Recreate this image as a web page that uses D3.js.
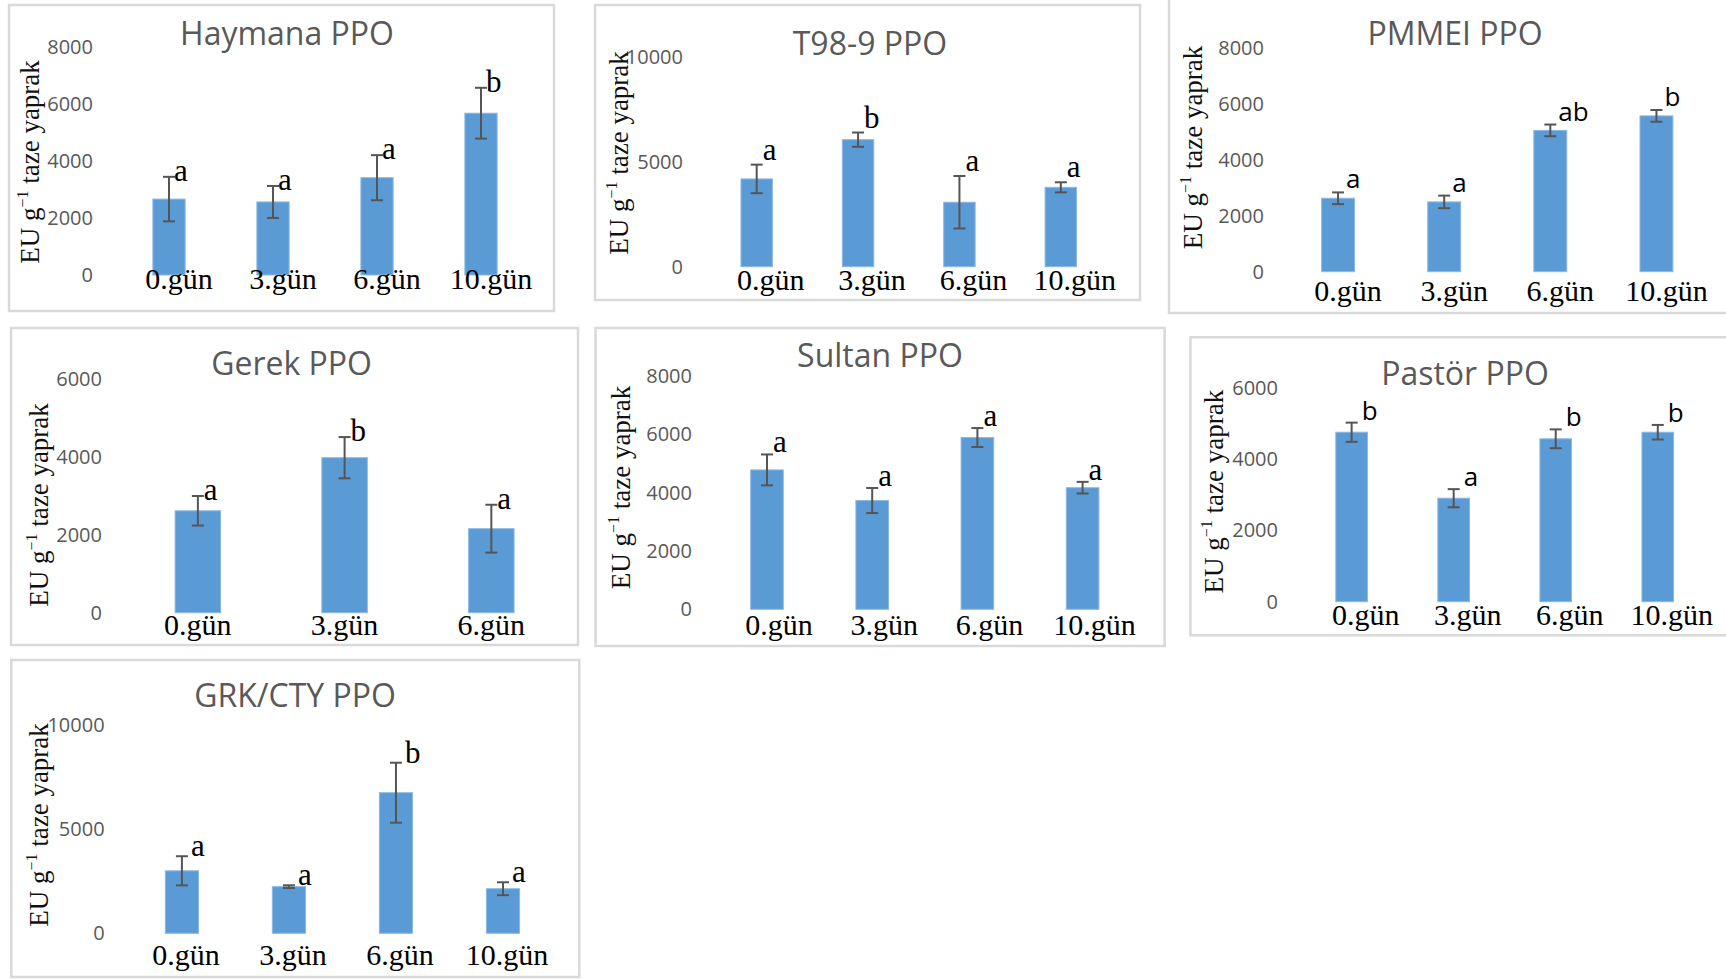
<!DOCTYPE html>
<html lang="tr">
<head>
<meta charset="utf-8">
<title>PPO</title>
<style>
    body { margin: 0; background: #fff; }
    svg { display: block; }
</style>
</head>
<body>
<svg class="ppo" width="1726" height="979"></svg>
<script src="https://d3js.org/d3.v7.min.js"></script>
<script>
    // --- veriler (EU g-1 taze yaprak) ---
    var gunler4 = ['0.gün', '3.gün', '6.gün', '10.gün'];
    var gunler3 = ['0.gün', '3.gün', '6.gün'];

    var ticks8000 = [0, 2000, 4000, 6000, 8000];
    var ticks10000 = [0, 5000, 10000];
    var ticks6000 = [0, 2000, 4000, 6000];

    var haymanaMean = [2660, 2560, 3410, 5670];
    var haymanaErr = [780, 560, 790, 890];
    var haymanaHarf = ['a', 'a', 'a', 'b'];

    var t989Mean = [4180, 6050, 3070, 3780];
    var t989Err = [680, 340, 1250, 240];
    var t989Harf = ['a', 'b', 'a', 'a'];

    var pmmeiMean = [2630, 2500, 5060, 5580];
    var pmmeiErr = [210, 225, 210, 210];
    var pmmeiHarf = ['a', 'a', 'ab', 'b'];

    var gerekMean = [2620, 3985, 2160];
    var gerekErr = [380, 530, 615];
    var gerekHarf = ['a', 'b', 'a'];

    var sultanMean = [4780, 3730, 5890, 4170];
    var sultanErr = [530, 430, 325, 200];
    var sultanHarf = ['a', 'a', 'a', 'a'];

    var pastorMean = [4765, 2910, 4580, 4765];
    var pastorErr = [270, 255, 265, 205];
    var pastorHarf = ['b', 'a', 'b', 'b'];

    var grkMean = [3000, 2240, 6750, 2140];
    var grkErr = [700, 65, 1440, 310];
    var grkHarf = ['a', 'a', 'b', 'a'];

    // --- panel yerleşimi ---
    var panels = [
        {title: 'Haymana PPO', days: gunler4, mean: haymanaMean, err: haymanaErr, harf: haymanaHarf, ticks: ticks8000,
         frame: [9, 5, 545, 306], xr: [117, 533], yr: [275, 46.7], tickX: 93, titleX: 287, titleY: 45,
         axisX: 38.5, axisY: 162, labelY: 289, labelDx: 10, harfDx: 5, harfDy: 4, sans: false},
        {title: 'T98-9 PPO', days: gunler4, mean: t989Mean, err: t989Err, harf: t989Harf, ticks: ticks10000,
         frame: [595, 5, 545, 295], xr: [706, 1111.5], yr: [266.7, 56.7], tickX: 683, titleX: 870, titleY: 55,
         axisX: 628, axisY: 153, labelY: 290, labelDx: 14, harfDx: 6, harfDy: -5, sans: false},
        {title: 'PMMEI PPO', days: gunler4, mean: pmmeiMean, err: pmmeiErr, harf: pmmeiHarf, ticks: ticks8000,
         frame: [1169, -5, 580, 318], xr: [1285, 1709.5], yr: [271.7, 48.3], tickX: 1264, titleX: 1455, titleY: 45,
         axisX: 1202, axisY: 147.5, labelY: 300.7, labelDx: 10, harfDx: 8, harfDy: -4, sans: true},
        {title: 'Gerek PPO', days: gunler3, mean: gerekMean, err: gerekErr, harf: gerekHarf, ticks: ticks6000,
         frame: [11, 328, 567, 317], xr: [124.5, 564.7], yr: [612.7, 379.3], tickX: 102, titleX: 291.6, titleY: 375,
         axisX: 48, axisY: 505, labelY: 635, labelDx: 0, harfDx: 6, harfDy: 4, sans: false},
        {title: 'Sultan PPO', days: gunler4, mean: sultanMean, err: sultanErr, harf: sultanHarf, ticks: ticks8000,
         frame: [595.6, 328, 569, 318], xr: [714.4, 1135.2], yr: [609.3, 376], tickX: 692, titleX: 880, titleY: 366.7,
         axisX: 630, axisY: 487.5, labelY: 635, labelDx: 12, harfDx: 6, harfDy: -2, sans: false},
        {title: 'Pastör PPO', days: gunler4, mean: pastorMean, err: pastorErr, harf: pastorHarf, ticks: ticks6000,
         frame: [1190.4, 337.3, 560, 298], xr: [1300.6, 1708.8], yr: [601.7, 388.3], tickX: 1278, titleX: 1465, titleY: 385,
         axisX: 1223, axisY: 491.7, labelY: 625, labelDx: 14, harfDx: 10, harfDy: -3, sans: true},
        {title: 'GRK/CTY PPO', days: gunler4, mean: grkMean, err: grkErr, harf: grkHarf, ticks: ticks10000,
         frame: [11.3, 660, 568, 317], xr: [128.4, 556.5], yr: [933.3, 725], tickX: 104.6, titleX: 295, titleY: 706.7,
         axisX: 48, axisY: 825, labelY: 965, labelDx: 4, harfDx: 9, harfDy: 0, sans: false}
    ];

    var svg = d3.select('.ppo');
    var serif = '"Liberation Serif", "Times New Roman", serif';
    var sans = '"Open Sans", Lato, sans-serif';

    panels.forEach(function(p) {
        var g = svg.append('g');

        // çerçeve
        g.append('rect')
            .attr('x', p.frame[0]).attr('y', p.frame[1])
            .attr('width', p.frame[2]).attr('height', p.frame[3])
            .attr('fill', '#fff')
            .attr('stroke', '#d9d9d9')
            .attr('stroke-width', 2.5);

        var rows = p.days.map(function(d, i) {
            return {day: d, mean: p.mean[i], err: p.err[i], harf: p.harf[i]};
        });

        var x = d3.scaleBand()
            .domain(p.days)
            .range(p.xr)
            .paddingInner(0.69)
            .paddingOuter(0.345);

        var y = d3.scaleLinear()
            .domain([0, d3.max(p.ticks)])
            .range(p.yr);

        // başlık
        g.append('text')
            .attr('x', p.titleX).attr('y', p.titleY)
            .attr('text-anchor', 'middle')
            .style('font-family', sans)
            .style('font-size', '32px')
            .attr('fill', '#595959')
            .text(p.title);

        // y ekseni (sadece etiketler)
        var ax = g.append('g')
            .attr('transform', 'translate(' + p.tickX + ',0)')
            .call(d3.axisLeft(y).tickValues(p.ticks).tickSize(0).tickPadding(0).tickFormat(d3.format('d')));
        ax.select('.domain').remove();
        ax.selectAll('text')
            .style('font-family', sans)
            .style('font-size', '20px')
            .attr('fill', '#595959');

        // y başlığı
        var yt = g.append('text')
            .attr('transform', 'translate(' + p.axisX + ',' + p.axisY + ') rotate(-90)')
            .attr('text-anchor', 'middle')
            .style('font-family', serif)
            .style('font-size', '27px')
            .attr('fill', '#111');
        yt.append('tspan').text('EU g');
        yt.append('tspan').attr('dy', -11).style('font-size', '16px').text('−1');
        yt.append('tspan').attr('dy', 11).text(' taze yaprak');

        // çubuklar
        g.selectAll('rect.bar')
            .data(rows)
            .enter()
            .append('rect')
            .attr('class', 'bar')
            .attr('x', function(d) { return x(d.day); })
            .attr('y', function(d) { return y(d.mean); })
            .attr('width', x.bandwidth())
            .attr('height', function(d) { return y(0) - y(d.mean); })
            .attr('fill', '#5b9bd5')
            .attr('stroke', '#8db8e3')
            .attr('stroke-width', 1);

        // hata çubukları
        var cx = function(d) { return x(d.day) + x.bandwidth() / 2; };
        var eb = g.selectAll('g.err')
            .data(rows)
            .enter()
            .append('g')
            .attr('class', 'err')
            .attr('stroke', '#555')
            .attr('stroke-width', 2);
        eb.append('line')
            .attr('x1', cx).attr('x2', cx)
            .attr('y1', function(d) { return y(d.mean + d.err); })
            .attr('y2', function(d) { return y(d.mean - d.err); });
        eb.append('line')
            .attr('x1', function(d) { return cx(d) - 6; }).attr('x2', function(d) { return cx(d) + 6; })
            .attr('y1', function(d) { return y(d.mean + d.err); })
            .attr('y2', function(d) { return y(d.mean + d.err); });
        eb.append('line')
            .attr('x1', function(d) { return cx(d) - 6; }).attr('x2', function(d) { return cx(d) + 6; })
            .attr('y1', function(d) { return y(d.mean - d.err); })
            .attr('y2', function(d) { return y(d.mean - d.err); });

        // harfler
        g.selectAll('text.harf')
            .data(rows)
            .enter()
            .append('text')
            .attr('class', 'harf')
            .attr('x', function(d) { return cx(d) + p.harfDx; })
            .attr('y', function(d) { return y(d.mean + d.err) + p.harfDy; })
            .style('font-family', p.sans ? sans : serif)
            .style('font-size', p.sans ? '26px' : '31px')
            .attr('fill', '#000')
            .text(function(d) { return d.harf; });

        // gün etiketleri
        g.selectAll('text.gun')
            .data(rows)
            .enter()
            .append('text')
            .attr('class', 'gun')
            .attr('x', function(d) { return cx(d) + p.labelDx; })
            .attr('y', p.labelY)
            .attr('text-anchor', 'middle')
            .style('font-family', serif)
            .style('font-size', '30px')
            .attr('fill', '#000')
            .text(function(d) { return d.day; });
    });
</script>
</body>
</html>
